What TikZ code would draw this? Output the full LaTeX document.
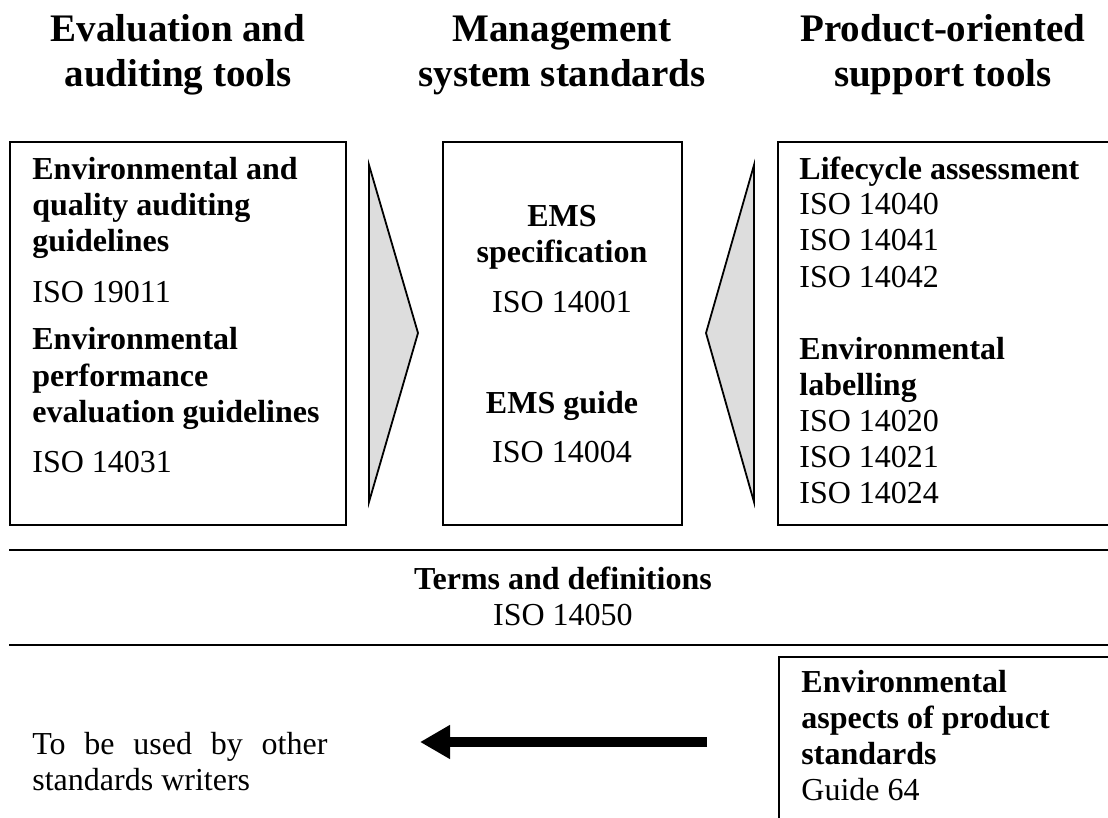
\documentclass[tikz,border=0pt]{standalone}
\usepackage{fontspec}
\setmainfont{Liberation Serif}
\usetikzlibrary{arrows.meta}
\definecolor{wedge-gray}{HTML}{DDDDDD}
\tikzset{
    head-text/.style = {font=\fontsize{19.5}{22.5}\selectfont\bfseries, align=center, anchor=base, inner sep=0pt},
    body-text/.style = {font=\fontsize{16}{18}\selectfont, align=left, anchor=base west, inner sep=0pt},
    mid-text/.style = {font=\fontsize{16}{18}\selectfont, align=center, anchor=base, inner sep=0pt},
    frame-line/.style = {draw=black, line width=0.9pt},
    wedge/.style = {draw=black, fill=wedge-gray, line width=0.9pt, line join=miter},
}

\begin{document}
\begin{tikzpicture}[x=0.5pt, y=-0.5pt]
\useasboundingbox (0,0) rectangle (1108,818);
% column headings (placed at the baseline of their last line)
\node[head-text] (head-eval) at (178,87) {Evaluation and\\auditing tools};
\node[head-text] (head-mgmt) at (562,87) {Management\\system standards};
\node[head-text] (head-prod) at (943,87) {Product-oriented\\support tools};

% the three boxes and the wedges between them
\draw[frame-line] (10,142) rectangle (346,525);
\draw[frame-line] (443,142) rectangle (682,525);
\draw[frame-line] (1108,142) -- (778,142) -- (778,525) -- (1108,525);
\draw[wedge] (369,165) -- (418,333) -- (369,502) -- cycle;
\draw[wedge] (754,165) -- (706,333) -- (754,502) -- cycle;

% left box
\node[body-text] (audit) at (32,252) {\textbf{Environmental and}\\\textbf{quality auditing}\\\textbf{guidelines}};
\node[body-text] (iso-19011) at (32,302) {ISO 19011};
\node[body-text] (perf) at (32,422) {\textbf{Environmental}\\\textbf{performance}\\\textbf{evaluation guidelines}};
\node[body-text] (iso-14031) at (32,472) {ISO 14031};

% middle box
\node[mid-text] (ems-spec) at (562,263) {\textbf{EMS}\\\textbf{specification}};
\node[mid-text] (iso-14001) at (562,313) {ISO 14001};
\node[mid-text] (ems-guide) at (562,413) {\textbf{EMS guide}};
\node[mid-text] (iso-14004) at (562,462) {ISO 14004};

% right box
\node[body-text] (lca) at (799,287) {\textbf{Lifecycle assessment}\\ISO 14040\\ISO 14041\\ISO 14042};
\node[body-text] (label) at (799,503) {\textbf{Environmental}\\\textbf{labelling}\\ISO 14020\\ISO 14021\\ISO 14024};

% terms band
\draw[frame-line] (9,550) -- (1108,550);
\node[mid-text] (terms) at (563,625) {\textbf{Terms and definitions}\\ISO 14050};
\draw[frame-line] (9,645) -- (1108,645);

% guide 64
\draw[frame-line] (1108,657) -- (779,657) -- (779,818);
\node[body-text] (guide-64) at (801,800) {\textbf{Environmental}\\\textbf{aspects of product}\\\textbf{standards}\\Guide 64};
\node[body-text] (writers) at (32,790) {\makebox[147.5pt][s]{To be used by other}\\standards writers};

\coordinate (arrow-tail) at (707,742);
\coordinate (arrow-tip) at (420,742);
\draw[line width=5pt, -{Triangle[length=15pt, width=16pt]}] (arrow-tail) -- (arrow-tip);
\end{tikzpicture}
\end{document}
